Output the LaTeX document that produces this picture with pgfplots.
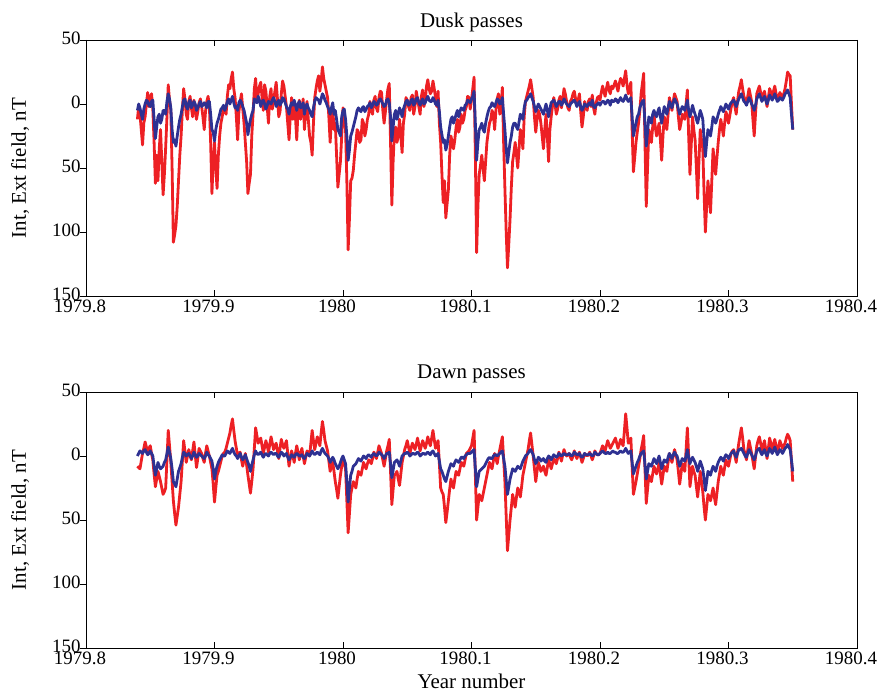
\documentclass[border=0pt]{standalone}
\usepackage{pgfplots}
\pgfplotsset{compat=1.18}
\usepackage{pgfplotstable}
\usepackage{fontspec}
\setmainfont{Liberation Serif}

\definecolor{extred}{RGB}{237,32,36}
\definecolor{intblue}{RGB}{46,49,146}

% x = thousandths of a year after 1979.8 (keeps the fpu away from 1979.8xx)
\pgfplotstableread{
x red blue
40 -12 -5
41 -2 0
42 -8 -3
43 -20 -8
44 -32 -12
45 -15 -4
46 -10 0
47 0 3
48 9 2
49 -2 -1
50 5 -2
51 8 2
52 -4 3
53 -30 -12
54 -62 -27
55 -40 -18
56 -60 -10
57 -35 -8
58 -20 -15
59 -45 -12
60 -71 -5
61 -55 -5
62 -34 -8
63 -10 2
64 15 8
65 3 4
66 -5 -3
67 -50 -20
68 -108 -30
69 -102 -28
70 -95 -33
71 -80 -25
72 -60 -18
73 -40 -12
74 -25 -8
75 -5 -2
76 12 3
77 4 4
78 -8 -2
79 -12 -4
80 2 1
81 6 3
82 -3 -3
83 -10 -1
84 3 2
85 -4 0
86 -12 -5
87 -6 -3
88 1 0
89 4 2
90 -2 -2
91 -10 -1
92 -20 1
93 -6 0
94 2 -3
95 6 2
96 -1 2
97 -30 -8
98 -70 -20
99 -45 -22
100 -30 -29
101 -50 -20
102 -66 -15
103 -40 -12
104 -25 -8
105 -15 -4
106 -10 -3
107 -2 -1
108 -4 -5
109 -8 -2
110 6 2
111 15 4
112 12 0
113 20 3
114 25 6
115 12 1
116 5 -3
117 -10 -2
118 -28 -5
119 -6 1
120 2 3
121 8 1
122 -4 -2
123 -15 -5
124 -30 -10
125 -45 -15
126 -70 -24
127 -62 -18
128 -55 -12
129 -25 -8
130 -8 -5
131 12 4
132 20 2
133 2 1
134 8 6
135 14 3
136 17 -2
137 5 2
138 -5 3
139 15 0
140 10 -4
141 -2 -1
142 -15 2
143 6 1
144 12 0
145 -4 3
146 3 5
147 10 2
148 17 -2
149 4 1
150 -10 3
151 -6 -1
152 8 1
153 18 5
154 14 4
155 6 1
156 -2 -2
157 -15 -4
158 -28 -8
159 -10 -2
160 5 1
161 -12 -1
162 0 3
163 -10 -1
164 -28 -5
165 -5 0
166 3 2
167 -12 -3
168 -5 -2
169 4 1
170 -20 -8
171 -6 -2
172 2 0
173 -12 -3
174 -25 -5
175 -30 -8
176 -40 -10
177 -15 -3
178 5 2
179 12 5
180 18 4
181 22 3
182 10 0
183 18 4
184 29 8
185 20 6
186 15 3
187 10 1
188 5 -2
189 -10 -4
190 -30 -8
191 -12 -3
192 -2 1
193 -20 -8
194 -15 -5
195 -40 -12
196 -65 -20
197 -55 -22
198 -45 -25
199 -25 -10
200 -3 -5
201 -15 -4
202 -20 -12
203 -60 -25
204 -114 -44
205 -90 -36
206 -60 -25
207 -58 -22
208 -52 -18
209 -40 -14
210 -30 -10
211 -20 -5
212 -22 -3
213 -30 -5
214 -28 -6
215 -12 -3
216 -15 -2
217 -25 -6
218 -20 -4
219 -12 -2
220 -8 -1
221 2 1
222 -5 -3
223 -8 -1
224 3 2
225 6 1
226 -3 -1
227 -6 0
228 5 3
229 10 4
230 9 2
231 -5 0
232 -15 -2
233 -6 -1
234 4 3
235 12 4
236 16 1
237 -30 -10
238 -79 -29
239 -45 -18
240 -22 -8
241 -18 -5
242 -30 -12
243 -25 -8
244 -12 -3
245 -25 -6
246 -38 -10
247 -15 -4
248 -8 -1
249 5 2
250 3 3
251 -2 -1
252 -5 0
253 5 3
254 7 4
255 -8 -1
256 -2 1
257 10 4
258 4 5
259 -2 1
260 -8 -1
261 6 2
262 11 4
263 -2 0
264 3 1
265 14 4
266 19 6
267 12 3
268 8 2
269 10 2
270 18 5
271 12 3
272 5 0
273 -2 -1
274 10 3
275 -15 -6
276 -30 -18
277 -55 -24
278 -77 -30
279 -60 -28
280 -89 -36
281 -78 -32
282 -67 -25
283 -40 -18
284 -25 -12
285 -30 -10
286 -35 -15
287 -28 -12
288 -18 -8
289 -12 -5
290 -22 -10
291 -18 -6
292 -8 -3
293 -15 -4
294 -12 -5
295 -5 -1
296 -2 0
297 6 3
298 5 2
299 -4 1
300 3 4
301 12 6
302 21 10
303 -40 -15
304 -116 -44
305 -80 -30
306 -55 -20
307 -48 -18
308 -40 -15
309 -50 -20
310 -60 -22
311 -45 -15
312 -30 -10
313 -22 -6
314 -15 -3
315 -12 -2
316 -5 1
317 -8 -1
318 -20 -2
319 -5 1
320 4 4
321 8 3
322 -8 0
323 -2 1
324 13 5
325 -30 -8
326 -66 -20
327 -100 -35
328 -128 -46
329 -110 -38
330 -90 -30
331 -65 -25
332 -45 -18
333 -38 -15
334 -30 -15
335 -40 -18
336 -50 -20
337 -35 -14
338 -20 -8
339 -25 -10
340 -35 -12
341 -10 -3
342 2 2
343 6 3
344 10 5
345 14 6
346 19 8
347 12 5
348 5 2
349 -10 -2
350 -22 -6
351 -12 -3
352 -5 0
353 -8 -2
354 -15 -4
355 -25 -6
356 -35 -8
357 -20 -4
358 -8 0
359 -25 -5
360 -45 -10
361 -20 -4
362 -10 1
363 -2 2
364 5 3
365 0 1
366 -8 -2
367 -4 0
368 3 2
369 6 2
370 -3 -1
371 4 1
372 12 4
373 8 2
374 2 0
375 -3 -1
376 -5 -2
377 2 0
378 4 1
379 8 2
380 10 3
381 4 1
382 -1 -2
383 3 0
384 8 2
385 -6 -2
386 -18 -5
387 -10 -3
388 2 0
389 -3 -1
390 -5 -2
391 2 0
392 4 1
393 -2 -1
394 7 3
395 -3 -2
396 -8 -3
397 1 -1
398 5 0
399 6 1
400 3 -1
401 9 1
402 14 2
403 10 2
404 6 0
405 12 1
406 17 3
407 11 2
408 8 -1
409 14 3
410 12 2
411 15 2
412 18 4
413 14 3
414 10 1
415 16 3
416 20 5
417 18 3
418 14 2
419 20 4
420 26 7
421 15 4
422 8 2
423 12 3
424 17 5
425 -20 -10
426 -53 -25
427 -42 -20
428 -30 -15
429 -22 -10
430 -15 -8
431 -5 -3
432 8 0
433 16 2
434 24 3
435 -30 -15
436 -80 -33
437 -50 -22
438 -20 -10
439 -26 -12
440 -30 -15
441 -18 -8
442 -8 -5
443 -18 -8
444 -25 -10
445 -20 -6
446 -15 -3
447 -28 -10
448 -44 -15
449 -25 -8
450 -10 -2
451 -15 -5
452 -20 -8
453 -8 -3
454 5 2
455 0 -1
456 -5 -3
457 2 1
458 8 4
459 5 2
460 2 0
461 -10 -4
462 -20 -8
463 -15 -5
464 -8 -2
465 -10 -3
466 -12 -5
467 0 -1
468 11 3
469 -25 -5
470 -55 -10
471 -32 -6
472 -10 -1
473 -20 -5
474 -28 -8
475 -50 -12
476 -74 -15
477 -45 -10
478 -20 -5
479 -28 -8
480 -35 -12
481 -70 -28
482 -100 -41
483 -80 -30
484 -60 -20
485 -72 -22
486 -85 -25
487 -60 -18
488 -35 -10
489 -45 -12
490 -55 -15
491 -42 -12
492 -30 -8
493 -20 -5
494 -12 -2
495 -18 -4
496 -25 -6
497 -15 -3
498 -6 0
499 -10 -2
500 -15 -4
501 -9 -1
502 -3 1
503 2 2
504 5 3
505 -2 1
506 -8 -2
507 2 1
508 10 4
509 14 6
510 19 8
511 12 5
512 6 2
513 3 1
514 0 -1
515 6 2
516 12 5
517 7 3
518 2 0
519 -12 -2
520 -25 -5
521 -8 -1
522 8 4
523 11 6
524 14 8
525 9 5
526 4 2
527 7 4
528 10 6
529 4 3
530 -2 0
531 5 3
532 12 7
533 9 5
534 6 3
535 10 5
536 14 8
537 8 5
538 3 2
539 6 3
540 9 5
541 7 4
542 5 3
543 8 5
544 12 8
545 18 9
546 25 11
547 23 8
548 22 5
549 0 -8
550 -20 -20
}\dusk

\pgfplotstableread{
x red blue
40 -8 0
41 -9 2
42 -10 4
43 -4 3
44 2 2
45 6 4
46 11 5
47 7 3
48 4 1
49 6 2
50 8 4
51 2 2
52 -3 0
53 -14 -8
54 -24 -15
55 -18 -10
56 -12 -5
57 -16 -8
58 -20 -10
59 -25 -9
60 -30 -8
61 -28 -5
62 -25 -3
63 -3 2
64 20 7
65 8 3
66 -5 -2
67 -20 -10
68 -35 -20
69 -45 -22
70 -54 -24
71 -47 -18
72 -40 -12
73 -30 -9
74 -20 -6
75 -4 -1
76 12 3
77 4 2
78 -5 0
79 0 1
80 5 2
81 1 0
82 -3 -2
83 4 0
84 11 3
85 1 1
86 -9 -1
87 -2 0
88 6 2
89 4 1
90 2 0
91 -2 -1
92 -5 -2
93 2 0
94 8 3
95 4 1
96 0 0
97 -5 -2
98 -10 -4
99 -22 -10
100 -36 -18
101 -25 -12
102 -15 -8
103 -12 -5
104 -8 -3
105 -4 -1
106 0 1
107 2 0
108 3 0
109 6 2
110 10 4
111 14 3
112 18 2
113 24 4
114 29 6
115 20 3
116 12 1
117 6 0
118 0 -2
119 2 0
120 3 2
121 -3 -1
122 -8 -3
123 -3 -1
124 2 1
125 -7 -2
126 -15 -5
127 -22 -8
128 -29 -12
129 -20 -7
130 -10 -3
131 6 1
132 22 4
133 16 2
134 10 1
135 12 2
136 14 3
137 8 1
138 2 -1
139 7 1
140 12 2
141 8 1
142 3 0
143 9 2
144 15 3
145 10 2
146 5 1
147 8 2
148 10 2
149 4 0
150 -2 -1
151 6 1
152 13 3
153 9 2
154 6 0
155 9 1
156 12 2
157 2 -1
158 -8 -3
159 -2 -1
160 4 1
161 0 0
162 -5 -1
163 2 1
164 8 2
165 3 1
166 -3 0
167 2 0
168 6 1
169 0 -1
170 -6 -2
171 -1 0
172 4 2
173 2 1
174 0 0
175 10 2
176 20 4
177 12 2
178 5 1
179 10 2
180 15 3
181 12 2
182 8 1
183 18 4
184 27 6
185 20 4
186 12 2
187 8 1
188 4 0
189 -4 -2
190 -12 -5
191 -8 -3
192 -5 -1
193 -12 -3
194 -20 -6
195 -26 -8
196 -33 -10
197 -24 -8
198 -15 -5
199 -8 -2
200 -2 0
201 -6 -3
202 -10 -6
203 -35 -20
204 -60 -36
205 -45 -25
206 -30 -15
207 -25 -12
208 -20 -8
209 -22 -7
210 -25 -6
211 -18 -4
212 -12 -2
213 -14 -3
214 -15 -4
215 -10 -2
216 -5 0
217 -8 -1
218 -10 -2
219 -6 0
220 -3 1
221 -4 0
222 -6 -1
223 -2 1
224 3 2
225 1 1
226 -2 0
227 3 1
228 8 3
229 5 2
230 2 1
231 -3 0
232 -8 -2
233 -2 0
234 4 2
235 8 2
236 13 3
237 -12 -6
238 -38 -17
239 -26 -11
240 -15 -5
241 -14 -4
242 -12 -3
243 -18 -5
244 -23 -8
245 -14 -4
246 -5 0
247 0 1
248 5 2
249 8 2
250 12 3
251 7 2
252 2 0
253 6 1
254 10 2
255 8 2
256 5 1
257 9 2
258 14 3
259 9 2
260 4 0
261 8 1
262 12 2
263 9 2
264 6 1
265 10 2
266 15 3
267 11 2
268 8 1
269 14 3
270 20 4
271 13 2
272 6 0
273 9 1
274 12 2
275 -6 -4
276 -25 -10
277 -28 -12
278 -30 -15
279 -40 -18
280 -52 -20
281 -44 -16
282 -35 -12
283 -26 -9
284 -18 -6
285 -22 -7
286 -25 -8
287 -18 -5
288 -12 -3
289 -14 -4
290 -15 -5
291 -10 -3
292 -5 -1
293 -6 -1
294 -8 -2
295 -3 0
296 2 1
297 3 2
298 4 2
299 6 2
300 8 3
301 14 4
302 20 5
303 -15 -10
304 -50 -24
305 -40 -18
306 -30 -12
307 -32 -11
308 -35 -10
309 -30 -9
310 -25 -8
311 -20 -6
312 -15 -4
313 -10 -2
314 -5 -1
315 -8 -2
316 -10 -2
317 -4 0
318 2 1
319 -2 1
320 -6 0
321 0 1
322 5 2
323 10 3
324 15 4
325 -2 -2
326 -20 -8
327 -47 -19
328 -74 -30
329 -62 -24
330 -50 -18
331 -40 -14
332 -30 -10
333 -35 -11
334 -40 -12
335 -32 -10
336 -25 -8
337 -28 -9
338 -32 -10
339 -24 -7
340 -15 -4
341 -10 -2
342 -5 0
343 0 1
344 5 2
345 12 4
346 18 5
347 9 3
348 0 1
349 -10 -3
350 -20 -6
351 -12 -4
352 -5 -1
353 -8 -2
354 -12 -4
355 -10 -3
356 -8 -2
357 -12 -4
358 -15 -5
359 -9 -2
360 -3 0
361 -6 -1
362 -10 -3
363 -6 -1
364 -2 1
365 -4 0
366 -6 -1
367 -2 0
368 3 2
369 0 1
370 -4 0
371 1 1
372 5 2
373 2 1
374 0 1
375 1 1
376 2 2
377 -1 1
378 -3 0
379 0 1
380 4 3
381 1 2
382 -2 1
383 1 1
384 3 2
385 -1 0
386 -5 -1
387 -2 0
388 2 2
389 1 1
390 0 1
391 1 1
392 3 2
393 0 1
394 -3 0
395 0 1
396 4 3
397 2 2
398 1 1
399 1 1
400 2 2
401 5 3
402 8 4
403 6 3
404 4 2
405 8 2
406 12 3
407 9 2
408 6 2
409 8 3
410 10 4
411 12 3
412 14 3
413 10 2
414 6 2
415 9 3
416 13 4
417 10 3
418 8 3
419 20 4
420 33 6
421 22 4
422 10 2
423 12 3
424 14 4
425 -8 -5
426 -30 -14
427 -25 -11
428 -20 -8
429 -14 -5
430 -8 -3
431 -2 0
432 5 2
433 10 3
434 16 4
435 -10 -7
436 -37 -18
437 -26 -12
438 -15 -6
439 -18 -7
440 -20 -8
441 -14 -5
442 -8 -2
443 -11 -4
444 -14 -6
445 -10 -3
446 -5 0
447 -14 -5
448 -22 -10
449 -15 -6
450 -8 -3
451 -10 -4
452 -12 -5
453 -5 -1
454 2 2
455 -2 0
456 -5 -2
457 0 1
458 5 3
459 1 1
460 -3 0
461 -12 -4
462 -22 -8
463 -14 -5
464 -6 -2
465 -9 -3
466 -12 -4
467 5 0
468 22 5
469 0 -1
470 -24 -6
471 -16 -3
472 -8 -1
473 -12 -3
474 -15 -5
475 -24 -8
476 -32 -12
477 -22 -8
478 -12 -4
479 -20 -7
480 -28 -10
481 -40 -18
482 -50 -27
483 -40 -20
484 -30 -12
485 -32 -13
486 -35 -15
487 -30 -11
488 -25 -8
489 -32 -10
490 -38 -12
491 -29 -8
492 -20 -5
493 -14 -3
494 -8 -1
495 -12 -2
496 -15 -4
497 -9 -1
498 -3 1
499 -6 0
500 -8 -2
501 -3 0
502 2 2
503 4 3
504 5 4
505 0 1
506 -5 -1
507 3 2
508 10 5
509 16 5
510 22 6
511 14 4
512 5 2
513 1 0
514 -3 -1
515 5 2
516 12 5
517 7 3
518 2 1
519 -4 -1
520 -10 -3
521 -1 0
522 8 4
523 12 5
524 15 6
525 10 3
526 4 1
527 8 3
528 12 5
529 5 2
530 -2 0
531 6 3
532 14 6
533 10 4
534 5 2
535 9 4
536 13 7
537 8 4
538 2 1
539 7 3
540 12 5
541 9 4
542 6 2
543 8 4
544 10 6
545 14 7
546 17 9
547 15 7
548 12 5
549 -4 -3
550 -20 -12
}\dawn

\pgfplotsset{
  passes/.style={
    width=771bp, height=256bp, scale only axis,
    xmin=0, xmax=600, ymin=-150, ymax=50,
    xtick={0,100,200,300,400,500,600},
    xticklabels={1979.8,1979.9,1980,1980.1,1980.2,1980.3,1980.4},
    ytick={-150,-100,-50,0,50},
    yticklabels={150,100,50,0,50},
    tick align=inside, xtick pos=both, ytick pos=left,
    major tick length=6bp,
    every major y tick/.append style={xshift=-6bp},
    tick style={black, line width=0.8bp},
    axis line style={line width=0.8bp},
    tick label style={font=\fontsize{19}{22}\selectfont},
    label style={font=\fontsize{21}{24}\selectfont},
    title style={font=\fontsize{21}{24}\selectfont, at={(axis description cs:0.5,1)}, anchor=center, yshift=12bp},
    xticklabel style={xshift=-6bp},
    yticklabel style={xshift=-2bp, yshift=2bp},
    ylabel={Int, Ext field, nT},
    ylabel style={at={(axis description cs:0,0.5)}, anchor=center, yshift=66bp},
  },
  ext/.style={extred, line width=2.8bp, line join=round},
  int/.style={intblue, line width=2.8bp, line join=round},
}

\begin{document}
\begin{tikzpicture}
\begin{axis}[passes, anchor=north west, at={(0,0)}, title={Dusk passes}]
  \addplot[ext] table[x=x, y=red] {\dusk};
  \addplot[int] table[x=x, y=blue] {\dusk};
\end{axis}
\begin{axis}[passes, anchor=north west, at={(0,-352bp)}, title={Dawn passes},
    xlabel={Year number},
    xlabel style={at={(axis description cs:0.5,0)}, anchor=center, yshift=-33bp}]
  \addplot[ext] table[x=x, y=red] {\dawn};
  \addplot[int] table[x=x, y=blue] {\dawn};
\end{axis}
\pgfresetboundingbox
\path[use as bounding box] (-86bp,40bp) rectangle (794bp,-651bp);
\end{tikzpicture}
\end{document}
